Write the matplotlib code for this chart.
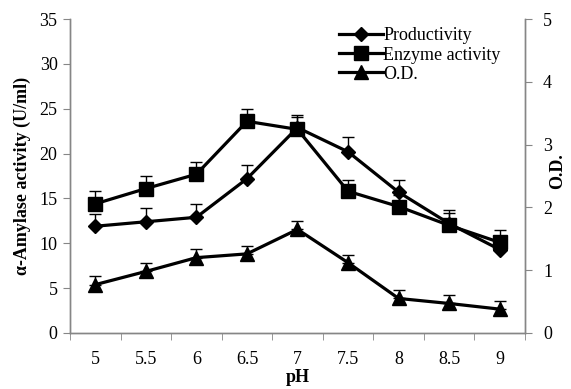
import matplotlib.pyplot as plt
from matplotlib.lines import Line2D
import numpy as np

# pH values (categorical axis)
ph_labels = ['5', '5.5', '6', '6.5', '7', '7.5', '8', '8.5', '9']

# left axis: alpha-amylase activity (U/ml)
productivity = [11.9, 12.4, 12.9, 17.2, 22.9, 20.2, 15.7, 12.2, 9.3]
productivity_err = [1.4, 1.5, 1.5, 1.5, 1.4, 1.6, 1.4, 1.5, 1.5]
enzyme = [14.4, 16.1, 17.7, 23.6, 22.7, 15.8, 14.1, 12.0, 10.1]
enzyme_err = [1.4, 1.4, 1.4, 1.4, 1.4, 1.3, 1.3, 1.4, 1.4]

# right axis: O.D.
od = [0.77, 0.98, 1.20, 1.26, 1.65, 1.12, 0.55, 0.47, 0.38]
od_err = [0.13, 0.13, 0.13, 0.12, 0.13, 0.13, 0.13, 0.13, 0.13]

series_names = ['Productivity', 'Enzyme activity', 'O.D.']

plt.rcParams['font.family'] = ['Liberation Serif', 'DejaVu Serif']
grey = '#868686'
fs = 13

fig = plt.figure(figsize=(5.71, 3.89), dpi=100)
ax = fig.add_axes([0.1226, 0.144, 0.7968, 0.807])
ax2 = ax.twinx()

x = np.arange(len(ph_labels))
zeros = np.zeros(len(x))
styles = [('D', 7.5), ('s', 9.5), ('^', 10)]

ax.errorbar(x, productivity, yerr=[zeros, productivity_err], color='black',
            marker='D', ms=7.5, lw=2.3, elinewidth=1, capsize=4, capthick=1, zorder=3)
ax.errorbar(x, enzyme, yerr=[zeros, enzyme_err], color='black',
            marker='s', ms=9.5, lw=2.3, elinewidth=1, capsize=4, capthick=1, zorder=3)
ax2.errorbar(x, od, yerr=[zeros, od_err], color='black',
             marker='^', ms=10, lw=2.3, elinewidth=1, capsize=4, capthick=1, zorder=3)

ax.set_xlim(-0.5, len(x) - 0.5)
ax.set_ylim(0, 35)
ax.set_yticks(np.arange(0, 36, 5))
ax2.set_ylim(0, 5)
ax2.set_yticks(np.arange(0, 6, 1))

ax.set_xticks(x)
ax.set_xticklabels(ph_labels)
ax.set_xticks(np.arange(-0.5, len(x), 1), minor=True)
ax.tick_params(axis='x', which='major', length=0, pad=13, labelsize=fs)
ax.tick_params(axis='x', which='minor', length=5, color=grey, direction='out')
ax.tick_params(axis='y', length=5, color=grey, labelsize=fs, pad=4)
ax2.tick_params(axis='y', length=5, color=grey, labelsize=fs, pad=8)

for a in (ax, ax2):
    a.spines['top'].set_visible(False)
    for s in ('left', 'right', 'bottom'):
        a.spines[s].set_color(grey)
        a.spines[s].set_linewidth(1)

ax.set_xlabel('pH', fontsize=fs, fontweight='bold', labelpad=1)
ax.set_ylabel('α-Amylase activity (U/ml)', fontsize=fs, fontweight='bold', labelpad=6)
fig.text(0.977, 0.56, 'O.D.', rotation=90, fontsize=fs, fontweight='bold',
         ha='center', va='center')

handles = [Line2D([], [], color='black', lw=2.3, marker=m, ms=s) for m, s in styles]
fig.legend(handles, series_names, loc='upper left',
           bbox_to_anchor=(0.572, 0.962), frameon=False, fontsize=fs,
           handlelength=2.4, handletextpad=0.05, labelspacing=0.12,
           borderpad=0.2)

fig.savefig('out.png', dpi=100)
